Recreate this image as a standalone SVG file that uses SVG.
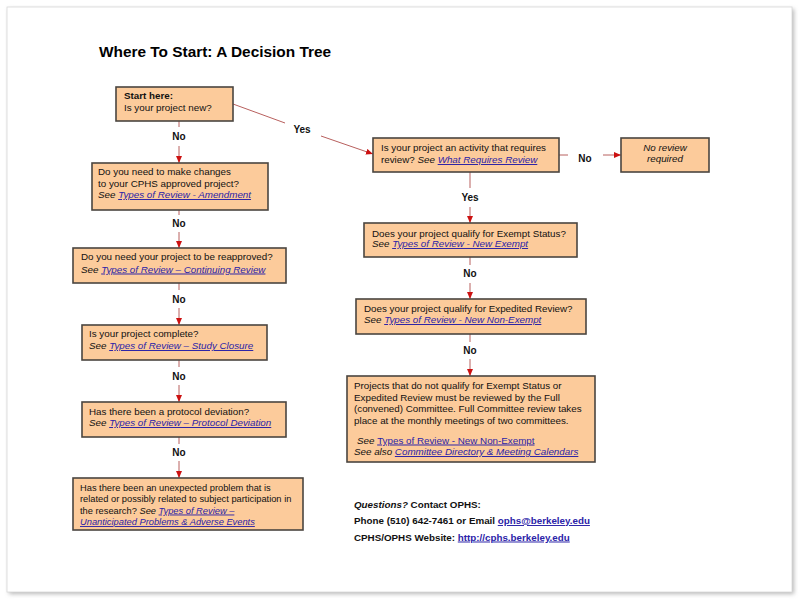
<svg xmlns="http://www.w3.org/2000/svg" width="800" height="600" viewBox="0 0 800 600">
<defs>
<marker id="ah" markerWidth="7" markerHeight="6" refX="7" refY="3" orient="auto" markerUnits="userSpaceOnUse">
<path d="M0,0 L7,3 L0,6 z" fill="#cc1111"/>
</marker>
<filter id="sh" x="-5%" y="-5%" width="110%" height="110%">
<feGaussianBlur stdDeviation="2"/>
</filter>
</defs>
<style>
.box{fill:#fccb9b;stroke:#4a4540;stroke-width:1.6}
.t{font-family:"Liberation Sans",Arial,sans-serif;font-size:9.8px;fill:#111}
.s{font-size:9.3px}
.b{font-weight:bold}
.i{font-style:italic}
.lk{fill:#2b23a8;text-decoration:underline}
.lbl{font-family:"Liberation Sans",Arial,sans-serif;font-size:10px;font-weight:bold;fill:#111;text-anchor:middle}
.c{stroke:#b8605e;stroke-width:1;fill:none}
.title{font-family:"Liberation Sans",Arial,sans-serif;font-size:15.4px;font-weight:bold;fill:#000}
</style>
<rect x="0" y="0" width="800" height="600" fill="#ffffff"/>
<rect x="9" y="9" width="785" height="585" fill="#b8b8b8" filter="url(#sh)"/>
<rect x="7" y="7" width="785" height="585" fill="#ffffff" stroke="#d8d8d8" stroke-width="0.8"/>

<text class="title" x="99" y="56.5">Where To Start: A Decision Tree</text>

<g id="connectors">
<line class="c" x1="179" y1="121" x2="179" y2="127"/>
<line class="c" x1="179" y1="146" x2="179" y2="163" marker-end="url(#ah)"/>
<line class="c" x1="179" y1="210" x2="179" y2="215"/>
<line class="c" x1="179" y1="232" x2="179" y2="248" marker-end="url(#ah)"/>
<line class="c" x1="179" y1="283" x2="179" y2="290"/>
<line class="c" x1="179" y1="308" x2="179" y2="325" marker-end="url(#ah)"/>
<line class="c" x1="179" y1="360" x2="179" y2="367"/>
<line class="c" x1="179" y1="385" x2="179" y2="402" marker-end="url(#ah)"/>
<line class="c" x1="179" y1="437" x2="179" y2="444"/>
<line class="c" x1="179" y1="461" x2="179" y2="478" marker-end="url(#ah)"/>
<line class="c" x1="233" y1="104" x2="285" y2="123"/>
<line class="c" x1="321" y1="136" x2="373" y2="154" marker-end="url(#ah)"/>
<line class="c" x1="559" y1="155" x2="568" y2="155"/>
<line class="c" x1="603" y1="155" x2="621" y2="155" marker-end="url(#ah)"/>
<line class="c" x1="470" y1="172" x2="470" y2="188"/>
<line class="c" x1="470" y1="207" x2="470" y2="223" marker-end="url(#ah)"/>
<line class="c" x1="470" y1="257" x2="470" y2="265"/>
<line class="c" x1="470" y1="283" x2="470" y2="299" marker-end="url(#ah)"/>
<line class="c" x1="470" y1="334" x2="470" y2="342"/>
<line class="c" x1="470" y1="359" x2="470" y2="376" marker-end="url(#ah)"/>
<text class="lbl" x="179" y="139.5">No</text>
<text class="lbl" x="179" y="226.5">No</text>
<text class="lbl" x="179" y="303">No</text>
<text class="lbl" x="179" y="379.5">No</text>
<text class="lbl" x="179" y="456">No</text>
<text class="lbl" x="302" y="132.5">Yes</text>
<text class="lbl" x="585" y="162">No</text>
<text class="lbl" x="470" y="200.5">Yes</text>
<text class="lbl" x="470" y="276.5">No</text>
<text class="lbl" x="470" y="353.5">No</text>
</g>

<g id="start">
<rect class="box" x="116" y="87" width="117" height="34"/>
<text class="t b" x="124" y="98.5">Start here:</text>
<text class="t" x="124" y="111">Is your project new?</text>
</g>

<g id="amendment">
<rect class="box" x="92" y="163" width="176" height="47"/>
<text class="t" x="98" y="175">Do you need to make changes</text>
<text class="t" x="98" y="186.5">to your CPHS approved project?</text>
<text class="t" x="98" y="198"><tspan class="i">See </tspan><tspan class="i lk">Types of Review - Amendment</tspan></text>
</g>

<g id="continuing">
<rect class="box" x="73" y="248" width="213" height="35"/>
<text class="t" x="81" y="260">Do you need your project to be reapproved?</text>
<text class="t" x="81" y="272.5"><tspan class="i">See </tspan><tspan class="i lk">Types of Review – Continuing Review</tspan></text>
</g>

<g id="closure">
<rect class="box" x="82" y="325" width="185" height="35"/>
<text class="t" x="89" y="337">Is your project complete?</text>
<text class="t" x="89" y="349"><tspan class="i">See </tspan><tspan class="i lk">Types of Review – Study Closure</tspan></text>
</g>

<g id="deviation">
<rect class="box" x="82" y="402" width="204" height="35"/>
<text class="t" x="89" y="414.5">Has there been a protocol deviation?</text>
<text class="t" x="89" y="426"><tspan class="i">See </tspan><tspan class="i lk">Types of Review – Protocol Deviation</tspan></text>
</g>

<g id="unanticipated">
<rect class="box" x="73" y="478" width="230" height="52"/>
<text class="t s" x="80" y="491">Has there been an unexpected problem that is</text>
<text class="t s" x="80" y="502">related or possibly related to subject participation in</text>
<text class="t s" x="80" y="513.5">the research? <tspan class="i">See </tspan><tspan class="i lk">Types of Review –</tspan></text>
<text class="t s i lk" x="80" y="525">Unanticipated Problems &amp; Adverse Events</text>
</g>

<g id="requires">
<rect class="box" x="373" y="138" width="186" height="34"/>
<text class="t" x="381" y="150.5">Is your project an activity that requires</text>
<text class="t" x="381" y="163"><tspan>review? </tspan><tspan class="i">See </tspan><tspan class="i lk">What Requires Review</tspan></text>
</g>

<g id="noreview">
<rect class="box" x="621" y="138" width="88" height="34"/>
<text class="t i" x="665" y="150.5" text-anchor="middle">No review</text>
<text class="t i" x="665" y="161.5" text-anchor="middle">required</text>
</g>

<g id="exempt">
<rect class="box" x="364" y="223" width="213" height="34"/>
<text class="t" x="372" y="236.5">Does your project qualify for Exempt Status?</text>
<text class="t" x="372" y="247"><tspan class="i">See </tspan><tspan class="i lk">Types of Review - New Exempt</tspan></text>
</g>

<g id="expedited">
<rect class="box" x="356" y="299" width="230" height="35"/>
<text class="t" x="364" y="312">Does your project qualify for Expedited Review?</text>
<text class="t" x="364" y="323"><tspan class="i">See </tspan><tspan class="i lk">Types of Review - New Non-Exempt</tspan></text>
</g>

<g id="full">
<rect class="box" x="347" y="376" width="248" height="86"/>
<text class="t" x="354" y="388.5">Projects that do not qualify for Exempt Status or</text>
<text class="t" x="354" y="400.5">Expedited Review must be reviewed by the Full</text>
<text class="t" x="354" y="412">(convened) Committee. Full Committee review takes</text>
<text class="t" x="354" y="424">place at the monthly meetings of two committees.</text>
<text class="t" x="357" y="443.5"><tspan class="i">See </tspan><tspan class="lk">Types of Review - New Non-Exempt</tspan></text>
<text class="t" x="354" y="455"><tspan class="i">See also </tspan><tspan class="i lk">Committee Directory &amp; Meeting Calendars</tspan></text>
</g>

<g id="contact">
<text class="t b" x="354" y="507.5"><tspan class="i">Questions?</tspan> Contact OPHS:</text>
<text class="t b" x="354" y="524">Phone (510) 642-7461 or Email <tspan class="lk">ophs@berkeley.edu</tspan></text>
<text class="t b" x="354" y="540.5">CPHS/OPHS Website: <tspan class="lk">http://cphs.berkeley.edu</tspan></text>
</g>
</svg>
